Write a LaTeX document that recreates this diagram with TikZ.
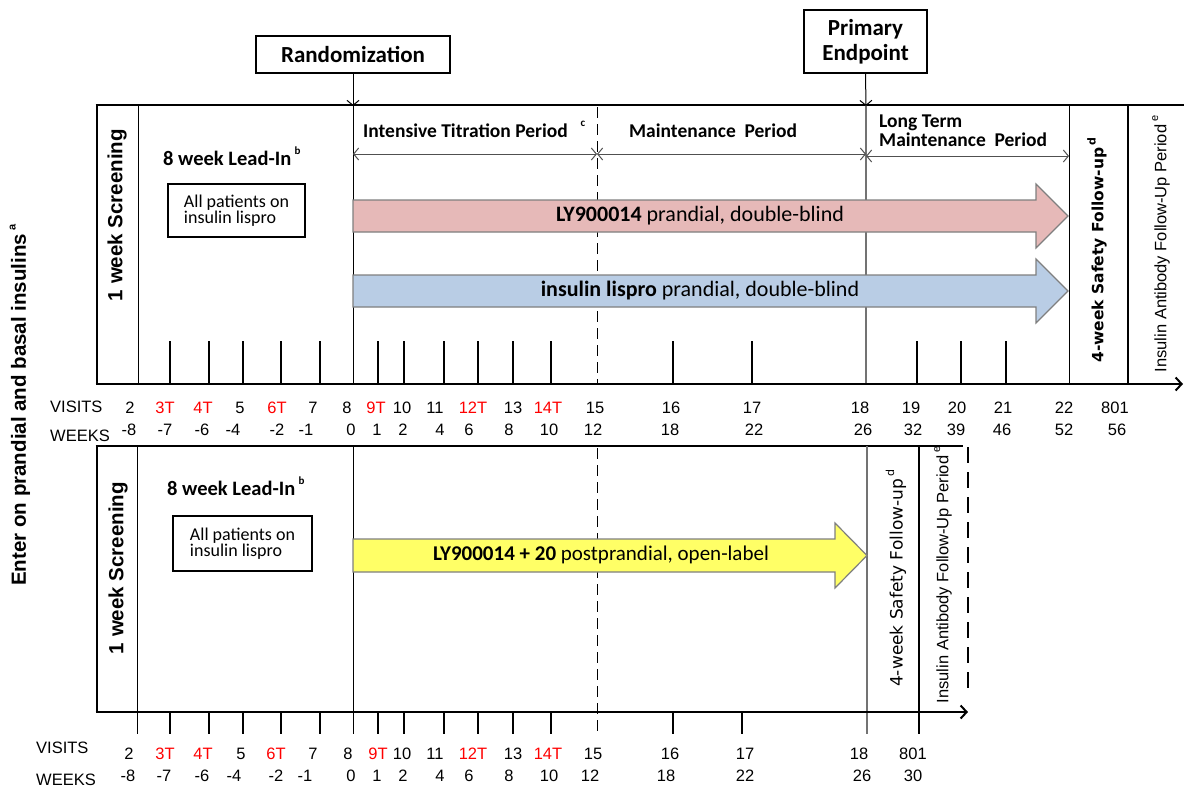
\documentclass[tikz,border=0pt]{standalone}
\usepackage{fontspec}
\setmainfont{Carlito}
\newfontfamily\arialf{Liberation Sans}
\newfontfamily\verdf{DejaVu Sans}
\usetikzlibrary{arrows.meta}
\definecolor{pinkf}{HTML}{E6B9B8}
\definecolor{bluef}{HTML}{B9CDE5}
\definecolor{yellowf}{HTML}{FFFF66}
\definecolor{redt}{HTML}{FF0000}
\definecolor{arrowgray}{HTML}{505050}
\definecolor{fatgray}{HTML}{7F7F7F}
\newcommand{\fs}[1]{\fontsize{#1}{#1}\selectfont}
\newcommand{\sups}[1]{\raisebox{0.5em}{\fontsize{11}{11}\selectfont #1}}
\begin{document}
\begin{tikzpicture}[x=1pt,y=-1pt,
  thk/.style={line width=2.6pt},
  thn/.style={line width=1pt},
  tick/.style={line width=1.1pt},
  barbtip/.style={-{Straight Barb[length=5pt,width=12pt]}},
  per/.style={line width=1pt, draw=arrowgray, {Straight Barb[length=5pt,width=12pt]}-{Straight Barb[length=5pt,width=12pt]}},
  vis/.style={font=\arialf\fs{16.5}, anchor=base, inner sep=0pt},
  hdr/.style={font=\arialf\fs{16.5}, anchor=base west, inner sep=0pt},
  lblbox/.style={draw, line width=1.3pt, inner sep=0pt, align=center},
  fat/.style={draw=fatgray, line width=1.2pt},
  pertxt/.style={font=\bfseries\fs{19.5}, anchor=base west, inner sep=0pt},
  vdash/.style={line width=1pt, dash pattern=on 11pt off 6pt}
]
\useasboundingbox (0,0) rectangle (1184,788);

% ---------------- top panel ----------------
\draw[thk] (97,105) -- (97,384);
\draw[thk] (95.7,105) -- (1184,105);
\draw[thn] (138,105) -- (138,384);
\draw[thn] (353,105) -- (353,384);
\draw[vdash] (597,107) -- (597,384);
\draw[line width=1.2pt, black!55] (866,105) -- (866,384);
\draw[thn] (1069,105) -- (1069,384);
\draw[thk] (1128,105) -- (1128,384);
\foreach \x in {170,209,243,281,320,378,404,444,478,513,551,673,752,917,961,1006}
  \draw[tick] (\x,341) -- (\x,384);
\coordinate (tend) at (1183,384);
\coordinate (tstart) at (95.7,384);
\draw[thk, -{Straight Barb[length=6pt,width=13pt,line width=2pt]}] (tstart) -- (tend);

% top boxes
\node[lblbox, minimum width=194pt, minimum height=37pt, font=\bfseries\fs{23}] (rand) at (353,54.5) {Randomization};
\node[lblbox, minimum width=123pt, minimum height=63pt, font=\bfseries\fs{23}] (prim) at (865.5,41.5) {Primary\\[2pt]Endpoint};
\coordinate (randpt) at (353,106);
\coordinate (primpt) at (866,106);
\draw[thn, barbtip] (rand.south) -- (randpt);
\draw[thn, barbtip] (prim.south) -- (primpt);

% period labels
\node[pertxt] (itp) at (363,137) {Intensive Titration Period};
\node[inner sep=0pt, font=\bfseries\fs{11}] (supc) at (583,124) {c};
\node[pertxt] (mp) at (629,137) {Maintenance\hspace{0.45em}Period};
\node[pertxt] (ltm) at (879,127) {Long Term};
\node[pertxt] (ltm2) at (879,146) {Maintenance\hspace{0.45em}Period};
\coordinate (p1) at (353,154);
\coordinate (p2) at (597,154);
\coordinate (p3) at (866,154);
\coordinate (p4) at (866,156);
\coordinate (p5) at (1069,156);
\draw[per] (p1) -- (p2);
\draw[per] (p2) -- (p3);
\draw[per] (p4) -- (p5);

% lead-in
\node[rotate=90, font=\arialf\bfseries\fs{20.5}, inner sep=0pt] (scr1) at (117,215) {1 week Screening};
\node[font=\bfseries\fs{20.5}, anchor=base west, inner sep=0pt] (lead1) at (163,165) {8 week Lead-In\,\sups{b}};
\node[lblbox, minimum width=137pt, minimum height=53pt, font=\fs{18}, align=left] (all1) at (236.5,210.5) {All patients on\\[-2pt]insulin lispro};

% fat arrows
\draw[fat, fill=pinkf] (353,200) -- (1036,200) -- (1036,184) -- (1068,216) -- (1036,248) -- (1036,232) -- (353,232) -- cycle;
\node[font=\fs{22}, inner sep=0pt] (pinktxt) at (700,216) {\textbf{LY900014} prandial,\ double-blind};
\draw[fat, fill=bluef] (353,275) -- (1036,275) -- (1036,259) -- (1068,291) -- (1036,323) -- (1036,307) -- (353,307) -- cycle;
\node[font=\fs{22}, inner sep=0pt] (bluetxt) at (700,291) {\textbf{insulin lispro} prandial,\ double-blind};

% follow-up labels top
\node[rotate=90, font=\verdf\bfseries\fs{15.5}, inner sep=0pt] (saf1) at (1097,250) {4-week Safety Follow-up\,\sups{d}};
\node[rotate=90, font=\arialf\fs{16.5}, inner sep=0pt] (ab1) at (1161,244) {Insulin Antibody Follow-Up Period\,\sups{e}};

% visits / weeks top
\node[hdr] (vh1) at (50,412) {VISITS};
\node[hdr] (wh1) at (50,441) {WEEKS};
\foreach \x/\t/\c [count=\i] in {130/2/black,165/3T/redt,203/4T/redt,240/5/black,277/6T/redt,313/7/black,347/8/black,376/9T/redt,402/10/black,435/11/black,473/12T/redt,513/13/black,548/14T/redt,595/15/black,671/16/black,752/17/black,860/18/black,911/19/black,957/20/black,1003/21/black,1064/22/black,1115/801/black}
  \node[vis, text=\c] (tv\i) at (\x,413) {\t};
\foreach \x/\t [count=\i] in {129/-8,165/-7,202/-6,233/-4,277/-2,306/-1,351/0,377/1,403/2,440/4,469/6,509/8,549/10,593/12,670/18,754/22,863/26,913/32,956/39,1002/46,1064/52,1117/56}
  \node[vis] (tw\i) at (\x,435) {\t};

% ---------------- bottom panel ----------------
\draw[thk] (97,446) -- (97,712);
\draw[thk] (95.7,446) -- (963,446);
\draw[thn] (137,446) -- (137,734);
\draw[thn] (353,446) -- (353,734);
\draw[vdash] (597,448) -- (597,734);
\draw[line width=1.2pt, black!55] (867,446) -- (867,734);
\draw[thk] (919,446) -- (919,712);
\draw[tick] (919,712) -- (919,734);
\foreach \x in {170,209,243,281,320,378,404,444,478,513,551,673,742}
  \draw[tick] (\x,712) -- (\x,734);
\draw[line width=2.6pt, dash pattern=on 16pt off 9pt] (968,447) -- (968,693);
\coordinate (bend) at (968,712);
\coordinate (bstart) at (95.7,712);
\draw[thk, -{Straight Barb[length=6pt,width=13pt,line width=2pt]}] (bstart) -- (bend);

\node[rotate=90, font=\arialf\bfseries\fs{20.5}, inner sep=0pt] (scr2) at (118,568) {1 week Screening};
\node[font=\bfseries\fs{20.5}, anchor=base west, inner sep=0pt] (lead2) at (167,495) {8 week Lead-In\,\sups{b}};
\node[lblbox, minimum width=139pt, minimum height=55pt, font=\fs{18}, align=left] (all2) at (242.5,543.5) {All patients on\\[-2pt]insulin lispro};

\draw[fat, fill=yellowf] (353,539) -- (835,539) -- (835,523) -- (867,555.5) -- (835,588) -- (835,572) -- (353,572) -- cycle;
\node[font=\fs{21}, inner sep=0pt] (yeltxt) at (601,555) {\textbf{LY900014 + 20} postprandial,\ open-label};

\node[rotate=90, font=\verdf\fs{17}, inner sep=0pt] (saf2) at (896,578) {4-week Safety Follow-up\,\sups{d}};
\node[rotate=90, font=\arialf\fs{16.5}, inner sep=0pt] (ab2) at (943,575) {Insulin Antibody Follow-Up Period\,\sups{e}};

\node[hdr] (vh2) at (36,753) {VISITS};
\node[hdr] (wh2) at (36,785) {WEEKS};
\foreach \x/\t/\c [count=\i] in {129/2/black,165/3T/redt,203/4T/redt,241/5/black,276/6T/redt,313/7/black,348/8/black,378/9T/redt,402/10/black,435/11/black,473/12T/redt,513/13/black,548/14T/redt,593/15/black,670/16/black,745/17/black,859/18/black,913/801/black}
  \node[vis, text=\c] (bv\i) at (\x,759) {\t};
\foreach \x/\t [count=\i] in {128/-8,164/-7,202/-6,234/-4,276/-2,305/-1,351/0,377/1,403/2,440/4,469/6,509/8,549/10,590/12,666/18,745/22,862/26,913/30}
  \node[vis] (bw\i) at (\x,781) {\t};

% left rotated label
\node[rotate=90, font=\arialf\bfseries\fs{20.5}, inner sep=0pt] (enter) at (20,405) {Enter on prandial and basal insulins\,\sups{a}};
\end{tikzpicture}
\end{document}
